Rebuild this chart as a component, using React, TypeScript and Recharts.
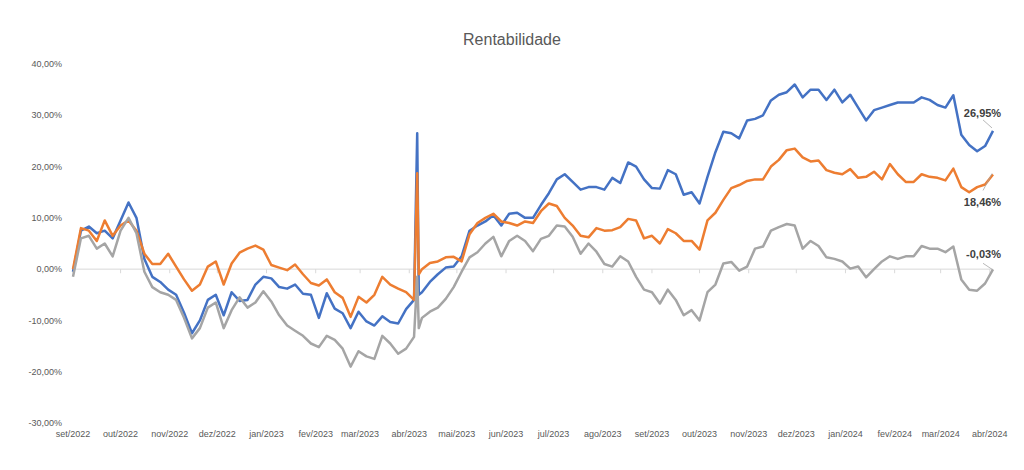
import React from "react";
import { LineChart, Line, XAxis, YAxis, ReferenceLine } from "recharts";

// datas das cotações (a cada ~5 dias) — inclui o pico de abril/2023
const datas = [
  "2022-09-01", "2022-09-06", "2022-09-11", "2022-09-16", "2022-09-21", "2022-09-26",
  "2022-10-01", "2022-10-06", "2022-10-11", "2022-10-16", "2022-10-21", "2022-10-26", "2022-10-31",
  "2022-11-05", "2022-11-10", "2022-11-15", "2022-11-20", "2022-11-25", "2022-11-30",
  "2022-12-05", "2022-12-10", "2022-12-15", "2022-12-20", "2022-12-25", "2022-12-30",
  "2023-01-04", "2023-01-09", "2023-01-14", "2023-01-19", "2023-01-24", "2023-01-29",
  "2023-02-03", "2023-02-08", "2023-02-13", "2023-02-18", "2023-02-23", "2023-02-28",
  "2023-03-05", "2023-03-10", "2023-03-15", "2023-03-20", "2023-03-25", "2023-03-30",
  "2023-04-04", "2023-04-06", "2023-04-07", "2023-04-09", "2023-04-14", "2023-04-19", "2023-04-24", "2023-04-29",
  "2023-05-04", "2023-05-09", "2023-05-14", "2023-05-19", "2023-05-24", "2023-05-29",
  "2023-06-03", "2023-06-08", "2023-06-13", "2023-06-18", "2023-06-23", "2023-06-28",
  "2023-07-03", "2023-07-08", "2023-07-13", "2023-07-18", "2023-07-23", "2023-07-28",
  "2023-08-02", "2023-08-07", "2023-08-12", "2023-08-17", "2023-08-22", "2023-08-27",
  "2023-09-01", "2023-09-06", "2023-09-11", "2023-09-16", "2023-09-21", "2023-09-26",
  "2023-10-01", "2023-10-06", "2023-10-11", "2023-10-16", "2023-10-21", "2023-10-26", "2023-10-31",
  "2023-11-05", "2023-11-10", "2023-11-15", "2023-11-20", "2023-11-25", "2023-11-30",
  "2023-12-05", "2023-12-10", "2023-12-15", "2023-12-20", "2023-12-25", "2023-12-30",
  "2024-01-04", "2024-01-09", "2024-01-14", "2024-01-19", "2024-01-24", "2024-01-29",
  "2024-02-03", "2024-02-08", "2024-02-13", "2024-02-18", "2024-02-23", "2024-02-28",
  "2024-03-04", "2024-03-09", "2024-03-14", "2024-03-19", "2024-03-24", "2024-03-29",
  "2024-04-03",
];

// rentabilidade acumulada (%)
const serieAzul = [
  -0.5, 7.5, 8.3, 7.0, 7.5, 6.0, 9.5, 13.0, 10.0, 2.0,
  -1.5, -2.5, -4.0, -5.0, -8.5, -12.5, -10.0, -6.0, -5.0, -9.0,
  -4.5, -6.2, -6.0, -3.0, -1.5, -1.8, -3.5, -3.8, -3.0, -4.8,
  -5.0, -9.5, -4.7, -7.7, -8.6, -11.5, -8.3, -10.2, -11.0, -9.2,
  -10.3, -10.6, -7.8, -6.0,
  26.5, -5.0,
  -4.5, -2.5, -1.0, 0.3, 0.5, 2.5,
  7.5, 8.5, 9.3, 10.5, 8.5, 10.8, 11.0, 10.0, 10.0, 12.5,
  14.8, 17.5, 18.5, 17.0, 15.5, 16.0, 16.0, 15.5, 17.8, 16.8,
  20.8, 20.0, 17.5, 15.8, 15.7, 19.3, 18.5, 14.5, 15.0, 12.8,
  18.0, 22.8, 26.8, 26.5, 25.5, 29.0, 29.3, 30.0, 32.9, 34.0,
  34.5, 36.0, 33.5, 35.0, 35.0, 33.0, 35.0, 32.5, 34.0, 31.5,
  29.0, 31.0, 31.5, 32.0, 32.5, 32.5, 32.5, 33.5, 33.0, 32.0,
  31.5, 33.9, 26.2, 24.2, 23.0, 24.0, 26.95,
];

const serieLaranja = [
  0.0, 8.0, 7.5, 5.5, 9.5, 6.5, 8.5, 9.5, 7.5, 3.0,
  1.0, 1.0, 3.0, 0.5, -2.0, -4.2, -3.0, 0.5, 1.5, -3.0,
  1.1, 3.2, 4.0, 4.6, 3.8, 0.8, 0.3, -0.2, 0.9, -1.0,
  -2.7, -3.2, -2.0, -4.5, -5.6, -9.3, -5.4, -6.5, -5.0, -1.5,
  -3.0, -3.8, -4.5, -6.0,
  18.7, -1.0,
  0.0, 1.2, 1.5, 2.3, 2.4, 1.5,
  6.8, 9.0, 10.0, 10.8, 9.3, 9.0, 8.5, 9.3, 9.0, 11.3,
  12.8, 12.3, 10.0, 8.5, 6.5, 6.2, 8.0, 7.5, 7.6, 8.2,
  9.8, 9.5, 6.0, 6.5, 5.0, 7.8, 7.0, 5.5, 5.5, 3.8,
  9.5, 11.0, 13.5, 15.8, 16.4, 17.2, 17.5, 17.5, 20.0, 21.3,
  23.2, 23.5, 21.8, 21.0, 21.2, 19.3, 18.8, 18.5, 19.5, 17.8,
  18.0, 19.0, 17.5, 20.5, 18.5, 17.0, 17.0, 18.5, 18.0, 17.8,
  17.3, 19.6, 16.0, 15.0, 16.0, 16.5, 18.46,
];

const serieCinza = [
  -1.5, 6.0, 6.5, 4.0, 5.0, 2.5, 7.5, 10.0, 7.0, -0.5,
  -3.5, -4.5, -5.0, -6.0, -9.5, -13.5, -11.5, -7.5, -6.5, -11.5,
  -8.0, -5.5, -7.5, -6.5, -4.3, -6.3, -9.0, -11.0, -12.0, -13.0,
  -14.5, -15.2, -13.0, -13.8, -15.5, -19.0, -16.0, -17.0, -17.5, -13.0,
  -14.5, -16.5, -15.5, -13.2,
  -1.5, -11.5,
  -9.5, -8.3, -7.5, -5.8, -3.5, -0.5,
  2.3, 3.3, 5.0, 6.3, 2.5, 5.5, 6.5, 5.5, 3.5, 5.9,
  6.5, 8.5, 8.3, 6.3, 3.0, 5.0, 3.4, 1.0, 0.5, 2.5,
  1.5, -1.5, -4.0, -4.5, -6.7, -4.0, -6.0, -9.0, -8.0, -10.0,
  -4.5, -3.0, 1.1, 1.4, -0.3, 0.5, 4.0, 4.4, 7.5, 8.2,
  8.8, 8.5, 4.0, 5.5, 4.5, 2.3, 2.0, 1.5, 0.1, 0.5,
  -1.6, 0.0, 1.5, 2.5, 2.0, 2.5, 2.5, 4.5, 4.0, 4.0,
  3.3, 4.4, -2.0, -4.0, -4.2, -2.8, -0.03,
];

const ticksMeses = [
  "2022-09-01", "2022-10-01", "2022-11-01", "2022-12-01", "2023-01-01",
  "2023-02-01", "2023-03-01", "2023-04-01", "2023-05-01", "2023-06-01",
  "2023-07-01", "2023-08-01", "2023-09-01", "2023-10-01", "2023-11-01",
  "2023-12-01", "2024-01-01", "2024-02-01", "2024-03-01", "2024-04-01",
];

const rotulosMeses = [
  "set/2022", "out/2022", "nov/2022", "dez/2022", "jan/2023",
  "fev/2023", "mar/2023", "abr/2023", "mai/2023", "jun/2023",
  "jul/2023", "ago/2023", "set/2023", "out/2023", "nov/2023",
  "dez/2023", "jan/2024", "fev/2024", "mar/2024", "abr/2024",
];

const ticksY = [-30, -20, -10, 0, 10, 20, 30, 40];

const toTime = (d: string) => Date.parse(d + "T00:00:00Z");

const dados = datas.map((d, i) => ({
  t: toTime(d),
  azul: serieAzul[i],
  laranja: serieLaranja[i],
  cinza: serieCinza[i],
}));

const tickTimes = ticksMeses.map(toTime);
const inicio = toTime("2022-09-01");
const fim = toTime("2024-04-03");

const pct = (v: number) => v.toFixed(2).replace(".", ",") + "%";
const rotuloMes = (t: number) => rotulosMeses[tickTimes.indexOf(t)] ?? "";

const FONTE = "'Liberation Sans', Arial, sans-serif";

function rotuloFinal(dx: number, dy: number, leader: [number, number, number, number]) {
  return (props: any) => {
    const { x, y, index, value } = props;
    if (index !== dados.length - 1) return null;
    return (
      <g>
        <line
          x1={x + leader[0]}
          y1={y + leader[1]}
          x2={x + leader[2]}
          y2={y + leader[3]}
          stroke="#a6a6a6"
          strokeWidth={0.8}
        />
        <text
          x={x + dx}
          y={y + dy}
          textAnchor="middle"
          dominantBaseline="central"
          fontFamily={FONTE}
          fontWeight="bold"
          fontSize={11}
          fill="#404040"
        >
          {pct(value)}
        </text>
      </g>
    );
  };
}

export default function App() {
  return (
    <div
      style={{
        position: "absolute",
        left: 0,
        top: 0,
        width: 1024,
        height: 470,
        background: "#fff",
      }}
    >
      <div
        style={{
          position: "absolute",
          top: 30,
          left: 0,
          width: 1024,
          textAlign: "center",
          fontFamily: FONTE,
          fontSize: 16,
          lineHeight: "20px",
          color: "#595959",
        }}
      >
        Rentabilidade
      </div>
      <LineChart
        width={1024}
        height={470}
        data={dados}
        margin={{ top: 64, right: 31, bottom: 17, left: 13 }}
      >
        <XAxis
          dataKey="t"
          type="number"
          scale="time"
          domain={[inicio, fim]}
          ticks={tickTimes}
          tickFormatter={rotuloMes}
          axisLine={false}
          tickLine={false}
          height={30}
          interval={0}
          tick={{ fontSize: 9, fill: "#595959", fontFamily: FONTE }}
        />
        <YAxis
          type="number"
          domain={[-30, 40]}
          ticks={ticksY}
          tickFormatter={pct}
          axisLine={false}
          tickLine={false}
          width={60}
          tickMargin={5}
          tick={{ fontSize: 9, fill: "#595959", fontFamily: FONTE }}
        />
        <ReferenceLine y={0} stroke="#d9d9d9" strokeWidth={1} />
        {tickTimes.map((t) => (
          <ReferenceLine
            key={t}
            segment={[
              { x: t, y: 0 },
              { x: t, y: -0.8 },
            ]}
            stroke="#d9d9d9"
            strokeWidth={1}
          />
        ))}
        <Line
          dataKey="azul"
          stroke="#4472C4"
          strokeWidth={2.5}
          dot={false}
          strokeLinejoin="round"
          isAnimationActive={false}
          label={rotuloFinal(-10.5, -18, [-10, -11, -1, -3])}
        />
        <Line
          dataKey="laranja"
          stroke="#ED7D31"
          strokeWidth={2.5}
          dot={false}
          strokeLinejoin="round"
          isAnimationActive={false}
          label={rotuloFinal(-10.5, 28, [-10, 16, -1, -1])}
        />
        <Line
          dataKey="cinza"
          stroke="#A5A5A5"
          strokeWidth={2.5}
          dot={false}
          strokeLinejoin="round"
          isAnimationActive={false}
          label={rotuloFinal(-9.5, -15.7, [-10, -6, -1, 0])}
        />
      </LineChart>
    </div>
  );
}
